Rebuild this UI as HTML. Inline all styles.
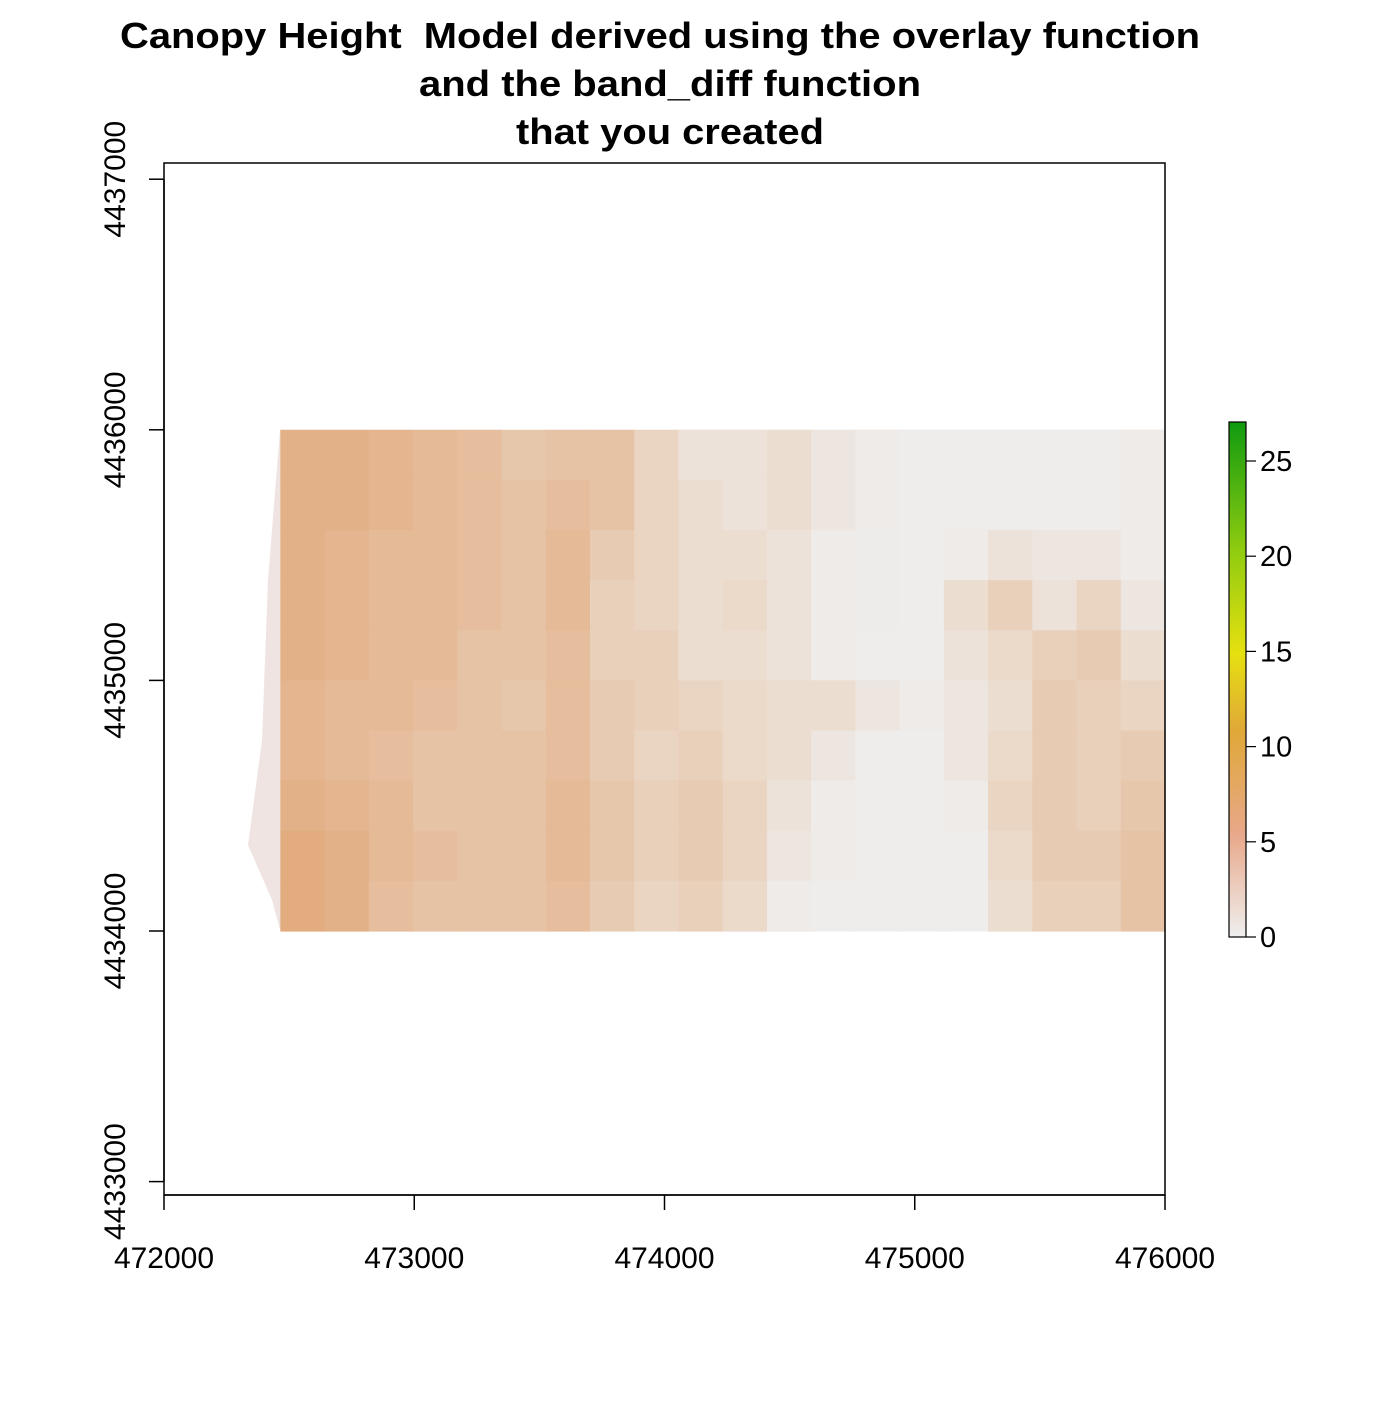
<!DOCTYPE html>
<html><head><meta charset="utf-8"><style>
body{margin:0;background:#fff}
svg text{font-family:"Liberation Sans",sans-serif;fill:#000}
</style></head><body>
<svg width="1400" height="1400" viewBox="0 0 1400 1400" xmlns="http://www.w3.org/2000/svg">
<g font-weight="bold" font-size="36" text-anchor="middle" style="white-space:pre">
<text x="660" y="48" textLength="1080" lengthAdjust="spacingAndGlyphs" xml:space="preserve">Canopy Height  Model derived using the overlay function</text>
<text x="670" y="96" textLength="502" lengthAdjust="spacingAndGlyphs">and the band_diff function</text>
<text x="670" y="144" textLength="308" lengthAdjust="spacingAndGlyphs">that you created</text>
</g>
<g id="raster"></g>
<rect x="164" y="163" width="1001" height="1032" fill="none" stroke="#000" stroke-width="1.5"/>
<g id="axes"></g>
<g id="legend"></g>
<script>
const xTicks=[472000,473000,474000,475000,476000];
const yTicks=[4433000,4434000,4435000,4436000,4437000];
const legendTicks=[0,5,10,15,20,25];
const rasterXmin=472465, rasterXmax=476000, rasterYmin=4434000, rasterYmax=4436000;
const density=[
[.7,.7,.65,.6,.55,.45,.5,.5,.3,.15,.15,.2,.1,.05,.02,.02,.02,.02,.02,.05],
[.7,.7,.65,.6,.55,.5,.55,.5,.3,.2,.15,.2,.1,.05,.02,.02,.02,.02,.02,.05],
[.7,.65,.6,.6,.55,.5,.6,.4,.3,.2,.2,.15,.05,.03,.02,.05,.15,.1,.1,.05],
[.7,.65,.6,.6,.55,.5,.6,.35,.3,.2,.25,.15,.05,.03,.02,.2,.35,.15,.3,.1],
[.7,.65,.6,.6,.5,.5,.55,.35,.35,.2,.2,.15,.05,.02,.02,.15,.25,.35,.4,.2],
[.65,.6,.6,.55,.5,.45,.55,.4,.35,.3,.25,.2,.2,.1,.05,.1,.2,.4,.35,.3],
[.65,.6,.55,.5,.5,.5,.55,.4,.3,.35,.25,.2,.1,.02,.02,.1,.25,.4,.35,.4],
[.7,.65,.6,.5,.5,.5,.6,.45,.35,.4,.3,.15,.05,.02,.02,.05,.3,.4,.35,.45],
[.75,.7,.6,.55,.5,.5,.6,.45,.35,.4,.3,.1,.05,.02,.02,.02,.25,.4,.4,.5],
[.75,.7,.55,.5,.5,.5,.55,.4,.3,.35,.25,.05,.02,.02,.02,.02,.2,.35,.35,.5]];
const NS="http://www.w3.org/2000/svg";
const X=v=>164+(v-472000)*1001/4000;
const Y=v=>931-(v-4434000)*250.6/1000;
function mk(t,a,p){const e=document.createElementNS(NS,t);for(const k in a)e.setAttribute(k,a[k]);p.appendChild(e);return e;}
function col(d){const a=[239,239,239],b=[222,150,90];return `rgb(${a.map((v,i)=>Math.round(v+(b[i]-v)*d)).join(',')})`;}
const R=document.getElementById('raster');
const bg=mk('polygon',{points:`${X(472465)},${Y(4436000)} ${X(476000)},${Y(4436000)} ${X(476000)},${Y(4434000)} ${X(472465)},${Y(4434000)} 272,900 248,845 262,740 268,580 280,430`,fill:'#efe4e2'},R);


const nr=density.length,nc=density[0].length;
const cw=(X(rasterXmax)-X(rasterXmin))/nc, ch=(Y(rasterYmin)-Y(rasterYmax))/nr;
density.forEach((row,r)=>row.forEach((d,c)=>{
 const e=mk('rect',{x:X(rasterXmin)+c*cw,y:Y(rasterYmax)+r*ch,width:cw+0.6,height:ch+0.6,fill:col(d)},R);
 
 
}));
const A=document.getElementById('axes');
mk('line',{x1:X(472000),x2:X(476000),y1:1195,y2:1195,stroke:'#000','stroke-width':1.5},A);
xTicks.forEach(v=>{mk('line',{x1:X(v),x2:X(v),y1:1195,y2:1210,stroke:'#000','stroke-width':1.5},A);
 const t=mk('text',{x:X(v),y:1268,'font-size':30,'text-anchor':'middle'},A);t.textContent=v;
 
 });
mk('line',{x1:164,x2:164,y1:Y(4433000),y2:Y(4437000),stroke:'#000','stroke-width':1.5},A);
yTicks.forEach(v=>{mk('line',{x1:149,x2:164,y1:Y(v),y2:Y(v),stroke:'#000','stroke-width':1.5},A);
 const t=mk('text',{x:0,y:0,'font-size':30,'text-anchor':'middle',transform:`translate(125,${Y(v)}) rotate(-90)`},A);t.textContent=v;
 
 });
const L=document.getElementById('legend');
const defs=mk('defs',{},L);const g=mk('linearGradient',{id:'lg',x1:0,y1:1,x2:0,y2:0},defs);
[['0','#efefef'],['0.2','#e8a88a'],['0.4','#e0a838'],['0.55','#e6e010'],['0.75','#90cc10'],['1','#109a10']].forEach(s=>mk('stop',{offset:s[0],'stop-color':s[1]},g));
const LY=v=>937-v*(937-461)/25;
mk('rect',{x:1229,y:422,width:17,height:515,fill:'url(#lg)',stroke:'#000','stroke-width':1.2},L);
legendTicks.forEach(v=>{mk('line',{x1:1246,x2:1256,y1:LY(v),y2:LY(v),stroke:'#000','stroke-width':1.2},L);
 const t=mk('text',{x:1260,y:LY(v)+10,'font-size':29},L);t.textContent=v;
 
 });
</script>
</svg></body></html>
